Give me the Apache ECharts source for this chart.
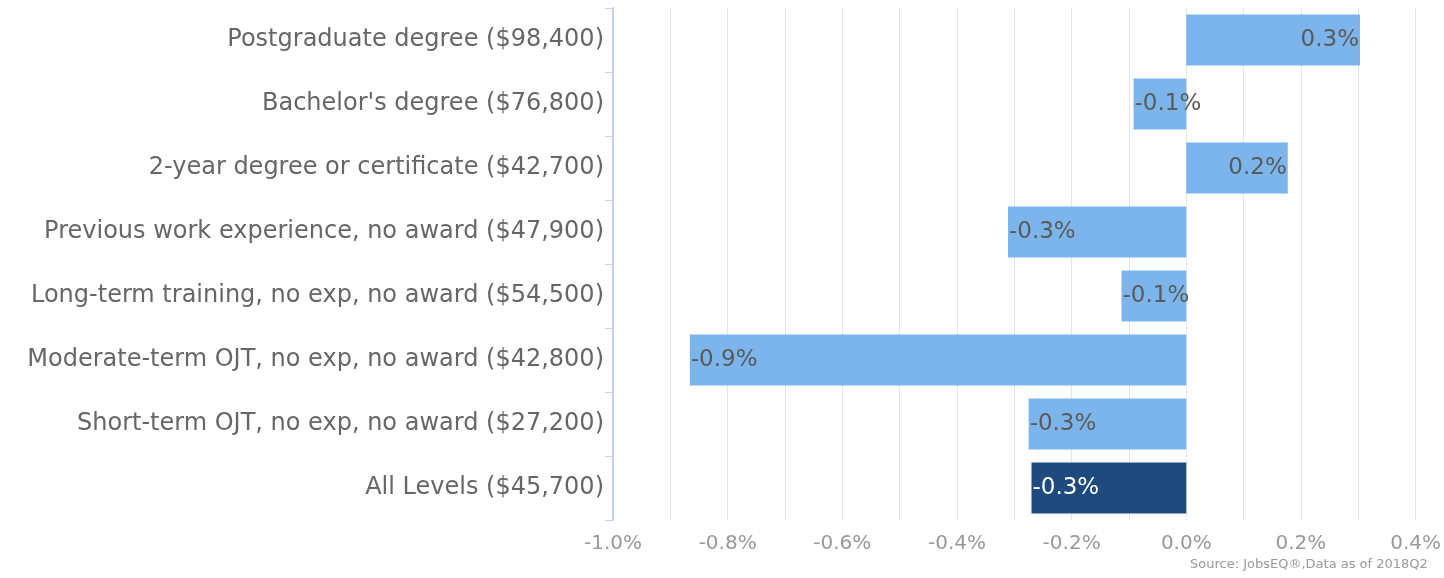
<!DOCTYPE html>
<html>
<head>
<meta charset="utf-8">
<script src="https://cdn.jsdelivr.net/npm/echarts@6/dist/echarts.min.js"></script>
<style>
  html, body { margin: 0; padding: 0; background: #fff; }
  #chart { width: 1444px; height: 578px; }
</style>
</head>
<body>
<div id="chart"></div>
<script>
const categories = [
  'Postgraduate degree ($98,400)',
  "Bachelor's degree ($76,800)",
  '2-year degree or certificate ($42,700)',
  'Previous work experience, no award ($47,900)',
  'Long-term training, no exp, no award ($54,500)',
  'Moderate-term OJT, no exp, no award ($42,800)',
  'Short-term OJT, no exp, no award ($27,200)',
  'All Levels ($45,700)'
]
// annual growth, percent
const growth = [0.303, -0.092, 0.177, -0.311, -0.113, -0.866, -0.275, -0.270]
const highlight = 'All Levels ($45,700)'
const sourceNote = 'Source: JobsEQ®,Data as of 2018Q2'

const chart = echarts.init(document.getElementById('chart'))

const font = '"DejaVu Sans", sans-serif'

const barData = growth.map((v, i) => {
  const isAll = categories[i] === highlight
  return {
    value: v,
    itemStyle: { color: isAll ? '#1f4a7d' : '#7cb5ec' },
    label: {
      position: v >= 0 ? 'insideRight' : 'insideLeft',
      color: isAll ? '#ffffff' : '#5a5a5a'
    }
  }
})

chart.setOption({
  animation: false,
  grid: { left: 613, right: 24, top: 8, bottom: 58, containLabel: false },
  xAxis: {
    type: 'value',
    min: -1.0,
    max: 0.4,
    interval: 0.1,
    axisLine: { show: false },
    axisTick: { show: false },
    splitLine: { show: true, lineStyle: { color: '#e6e6e6', width: 1 } },
    axisLabel: {
      color: '#999999',
      fontFamily: font,
      fontSize: 20,
      margin: 14,
      showMaxLabel: true,
      formatter: function (v) {
        const t = Math.round(v * 10)
        if (t % 2 !== 0) return ''
        return (t / 10).toFixed(1) + '%'
      }
    }
  },
  yAxis: {
    type: 'category',
    data: categories,
    inverse: true,
    z: 5,
    axisLine: { show: true, onZero: false, lineStyle: { color: '#c4d0e8', width: 2 } },
    axisTick: { show: true, length: 8, lineStyle: { color: '#c4d0e8', width: 1 } },
    axisLabel: {
      color: '#666666',
      fontFamily: font,
      fontSize: 24,
      margin: 9
    }
  },
  series: [{
    type: 'bar',
    data: barData,
    barCategoryGap: '20%',
    label: {
      show: true,
      fontFamily: font,
      fontSize: 23,
      distance: 1,
      formatter: function (p) { return p.value.toFixed(1) + '%' }
    }
  }],
  graphic: [{
    type: 'text',
    left: 1190,
    top: 558,
    style: {
      text: sourceNote,
      fill: '#999999',
      font: '13px ' + font
    }
  }]
})
</script>
</body>
</html>
